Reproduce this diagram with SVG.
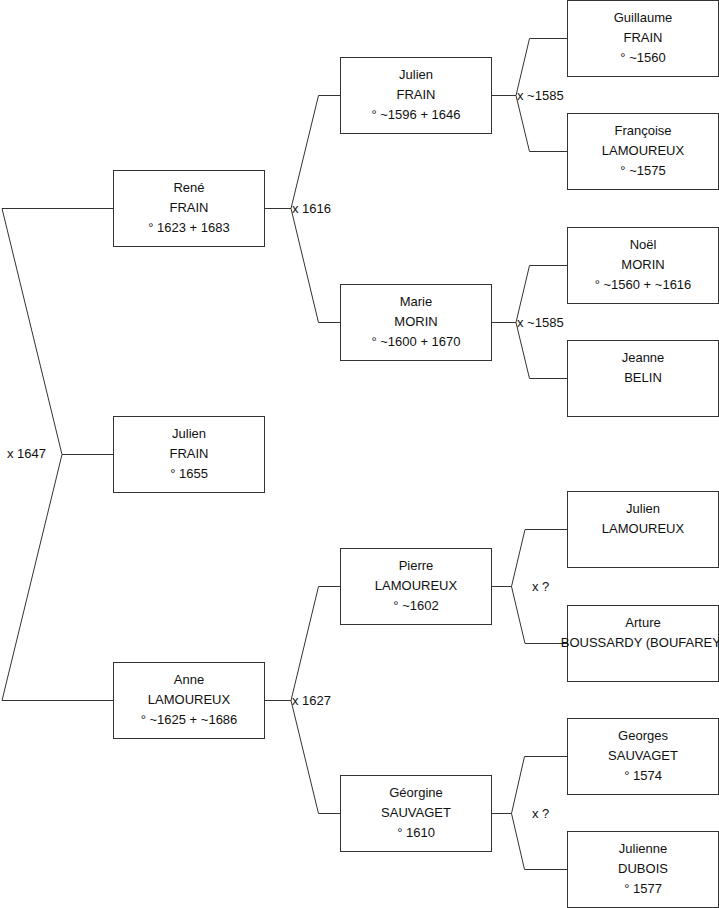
<svg xmlns="http://www.w3.org/2000/svg" width="719" height="908" viewBox="0 0 719 908">
<style>
.box{fill:#fff;stroke:#333;stroke-width:1}
.t{font-family:"Liberation Sans",Arial,sans-serif;font-size:13px;fill:#111;text-anchor:middle}
.l{font-family:"Liberation Sans",Arial,sans-serif;font-size:13px;fill:#111}
.c{fill:none;stroke:#333;stroke-width:1}
</style>
<rect width="719" height="908" fill="#fff"/>
<g id="connectors">
<path class="c" d="M2,208.5 H113.5 M2,700.5 H113.5 M2,208.5 L62,454.5 L2,700.5 M62,454.5 H113.5"/>
<path class="c" d="M264.5,208.5 H291 M340.5,95.5 H318.5 L291,208.5 L318.5,322.5 H340.5"/>
<path class="c" d="M264.5,700.5 H291 M340.5,586.5 H318.5 L291,700.5 L318.5,813.5 H340.5"/>
<path class="c" d="M491.5,95.5 H516 M567.5,38.5 H529.5 L516,95.5 L529.5,151.5 H567.5"/>
<path class="c" d="M491.5,322.5 H516 M567.5,265.5 H529.5 L516,322.5 L529.5,378.5 H567.5"/>
<path class="c" d="M491.5,586.5 H511.5 M567.5,529.5 H525 L511.5,586.5 L525,643.5 H567.5"/>
<path class="c" d="M491.5,813.5 H511.5 M567.5,756.5 H524.5 L511.5,813.5 L524.5,869.5 H567.5"/>
<text class="l" x="7" y="458">x 1647</text>
<text class="l" x="292" y="212.5">x 1616</text>
<text class="l" x="292" y="704.5">x 1627</text>
<text class="l" x="517" y="99.5">x ~1585</text>
<text class="l" x="517" y="326.5">x ~1585</text>
<text class="l" x="532" y="590.5">x ?</text>
<text class="l" x="532" y="817.5">x ?</text>
</g>
<g id="rene"><rect class="box" x="113.5" y="170.5" width="151" height="76"/>
<text class="t" x="189" y="192">René</text><text class="t" x="189" y="212">FRAIN</text><text class="t" x="189" y="232">° 1623 + 1683</text></g>
<g id="julien-child"><rect class="box" x="113.5" y="416.5" width="151" height="76"/>
<text class="t" x="189" y="438">Julien</text><text class="t" x="189" y="458">FRAIN</text><text class="t" x="189" y="478">° 1655</text></g>
<g id="anne"><rect class="box" x="113.5" y="662.5" width="151" height="76"/>
<text class="t" x="189" y="684">Anne</text><text class="t" x="189" y="704">LAMOUREUX</text><text class="t" x="189" y="724">° ~1625 + ~1686</text></g>
<g id="julien-frain"><rect class="box" x="340.5" y="57.5" width="151" height="76"/>
<text class="t" x="416" y="79">Julien</text><text class="t" x="416" y="99">FRAIN</text><text class="t" x="416" y="119">° ~1596 + 1646</text></g>
<g id="marie"><rect class="box" x="340.5" y="284.5" width="151" height="76"/>
<text class="t" x="416" y="306">Marie</text><text class="t" x="416" y="326">MORIN</text><text class="t" x="416" y="346">° ~1600 + 1670</text></g>
<g id="pierre"><rect class="box" x="340.5" y="548.5" width="151" height="76"/>
<text class="t" x="416" y="570">Pierre</text><text class="t" x="416" y="590">LAMOUREUX</text><text class="t" x="416" y="610">° ~1602</text></g>
<g id="georgine"><rect class="box" x="340.5" y="775.5" width="151" height="76"/>
<text class="t" x="416" y="797">Géorgine</text><text class="t" x="416" y="817">SAUVAGET</text><text class="t" x="416" y="837">° 1610</text></g>
<g id="guillaume"><rect class="box" x="567.5" y="0.5" width="151" height="76"/>
<text class="t" x="643" y="22">Guillaume</text><text class="t" x="643" y="42">FRAIN</text><text class="t" x="643" y="62">° ~1560</text></g>
<g id="francoise"><rect class="box" x="567.5" y="113.5" width="151" height="76"/>
<text class="t" x="643" y="135">Françoise</text><text class="t" x="643" y="155">LAMOUREUX</text><text class="t" x="643" y="175">° ~1575</text></g>
<g id="noel"><rect class="box" x="567.5" y="227.5" width="151" height="76"/>
<text class="t" x="643" y="249">Noël</text><text class="t" x="643" y="269">MORIN</text><text class="t" x="643" y="289">° ~1560 + ~1616</text></g>
<g id="jeanne"><rect class="box" x="567.5" y="340.5" width="151" height="76"/>
<text class="t" x="643" y="362">Jeanne</text><text class="t" x="643" y="382">BELIN</text></g>
<g id="julien-lamoureux"><rect class="box" x="567.5" y="491.5" width="151" height="76"/>
<text class="t" x="643" y="513">Julien</text><text class="t" x="643" y="533">LAMOUREUX</text></g>
<g id="arture"><rect class="box" x="567.5" y="605.5" width="151" height="76"/>
<text class="t" x="643" y="627">Arture</text><text class="t" x="643" y="647">BOUSSARDY (BOUFAREY)</text></g>
<g id="georges"><rect class="box" x="567.5" y="718.5" width="151" height="76"/>
<text class="t" x="643" y="740">Georges</text><text class="t" x="643" y="760">SAUVAGET</text><text class="t" x="643" y="780">° 1574</text></g>
<g id="julienne"><rect class="box" x="567.5" y="831.5" width="151" height="76"/>
<text class="t" x="643" y="853">Julienne</text><text class="t" x="643" y="873">DUBOIS</text><text class="t" x="643" y="893">° 1577</text></g>
</svg>
